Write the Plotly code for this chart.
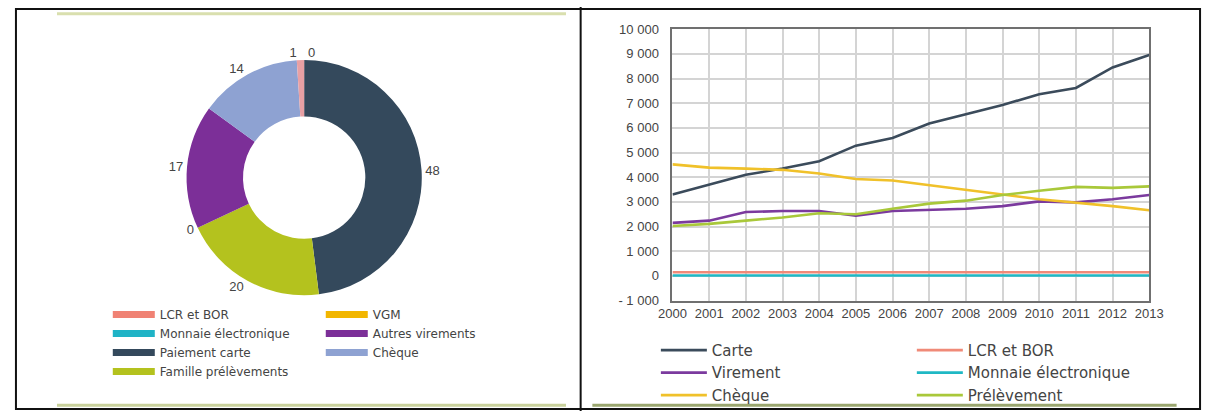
import plotly.graph_objects as go

# ---------------- data ----------------
pie_labels = ["Paiement carte", "Famille prélèvements", "VGM", "Autres virements",
              "Chèque", "LCR et BOR", "Monnaie électronique"]
pie_values = [48, 20, 0, 17, 14, 1, 0]
pie_colors = ["#34495c", "#b4c21e", "#f2b600", "#7c2f98", "#8ea2d2", "#e8a0a4", "#1fb3c6"]

pie_legend_col1 = ["LCR et BOR", "Monnaie électronique", "Paiement carte", "Famille prélèvements"]
pie_legend_col2 = ["VGM", "Autres virements", "Chèque"]
pie_legend_colors = {"LCR et BOR": "#f08274", "Monnaie électronique": "#1fb3c6",
                     "Paiement carte": "#34495c", "Famille prélèvements": "#b4c21e",
                     "VGM": "#f2b600", "Autres virements": "#7c2f98", "Chèque": "#8ea2d2"}

years = list(range(2000, 2014))
carte = [3300, 3700, 4100, 4350, 4650, 5280, 5590, 6180, 6570, 6930, 7360, 7620, 8450, 8950]
virement = [2150, 2240, 2590, 2630, 2630, 2440, 2630, 2660, 2720, 2830, 3020, 2980, 3110, 3280]
cheque = [4520, 4390, 4350, 4300, 4150, 3930, 3870, 3670, 3480, 3300, 3110, 2980, 2830, 2660]
lcr_bor = [150, 150, 150, 150, 150, 150, 150, 150, 150, 150, 150, 150, 150, 150]
monnaie = [20, 20, 20, 20, 20, 20, 20, 20, 20, 20, 20, 20, 20, 20]
prelevement = [2020, 2110, 2240, 2370, 2540, 2500, 2720, 2930, 3050, 3280, 3450, 3610, 3570, 3630]

y_ticks = list(range(-1000, 10001, 1000))


def fmt(v):
    s = f"{abs(v):,}".replace(",", " ")
    return ("- " + s) if v < 0 else s


y_ticktext = [fmt(v) for v in y_ticks]

line_col1 = [("Carte", carte, "#3b4b5b"), ("Virement", virement, "#7b3a9e"),
             ("Chèque", cheque, "#f0c12a")]
line_col2 = [("LCR et BOR", lcr_bor, "#f08a78"), ("Monnaie électronique", monnaie, "#1fb8c4"),
             ("Prélèvement", prelevement, "#a9c83a")]

W, H = 1216, 419
FONT = "Liberation Sans, Arial, sans-serif"
LFONT = "DejaVu Sans, Verdana, sans-serif"
TXT = "#444444"

fig = go.Figure()

# ---------------- pie ----------------
cx, cy, r = 297, 177, 122
fig.add_trace(go.Pie(
    labels=pie_labels, values=pie_values, sort=False, direction="clockwise", rotation=0,
    hole=0.52, marker=dict(colors=pie_colors, line=dict(width=0)),
    textposition="outside", texttemplate="%{value}", showlegend=False,
    textfont=dict(family=FONT, size=13, color=TXT),
    domain=dict(x=[(cx - r) / W, (cx + r) / W], y=[(H - cy - r) / H, (H - cy + r) / H]),
    hoverinfo="label+value",
))

# pie legend entries (two columns)
for lg, names in (("legend3", pie_legend_col1), ("legend4", pie_legend_col2)):
    for nm in names:
        fig.add_trace(go.Scatter(x=[None], y=[None], mode="lines", name=nm,
                                 line=dict(color=pie_legend_colors[nm], width=7),
                                 legend=lg, legendgroup=nm, hoverinfo="skip"))

# ---------------- lines ----------------
for lg, items in (("legend", line_col1), ("legend2", line_col2)):
    for nm, vals, col in items:
        fig.add_trace(go.Scatter(x=years, y=vals, mode="lines", name=nm,
                                 line=dict(color=col, width=2.6), legend=lg,
                                 legendgroup=nm, cliponaxis=False))

x0, x1 = 674, 1162
yt, yb = 23, 304.5
fig.update_xaxes(domain=[x0 / W, x1 / W], range=[2000, 2013], tickvals=years,
                 showgrid=True, gridcolor="#d4d4d4", gridwidth=1.5,
                 showline=True, linecolor="#707070", linewidth=2, mirror=True,
                 ticks="", tickfont=dict(family=FONT, size=13, color=TXT), zeroline=False)
fig.update_yaxes(domain=[(H - yb) / H, (H - yt) / H], range=[-1000, 10000],
                 tickvals=y_ticks, ticktext=y_ticktext,
                 showgrid=True, gridcolor="#d4d4d4", gridwidth=1.5,
                 showline=True, linecolor="#707070", linewidth=2, mirror=True,
                 ticks="", ticklabelstandoff=9,
                 tickfont=dict(family=FONT, size=13, color=TXT), zeroline=False)

leg_line = dict(font=dict(family=LFONT, size=15, color=TXT), bgcolor="rgba(0,0,0,0)",
                yanchor="top", xanchor="left", itemwidth=46, tracegroupgap=0,
                orientation="v")
leg_pie = dict(font=dict(family=LFONT, size=12, color=TXT), bgcolor="rgba(0,0,0,0)",
               yanchor="top", xanchor="left", itemwidth=42, tracegroupgap=0,
               orientation="v")

shapes = [
    dict(type="rect", xref="paper", yref="paper", x0=2 / W, x1=1 - 2 / W, y0=2 / H, y1=1 - 2 / H,
         line=dict(color="#111111", width=2)),
    dict(type="line", xref="paper", yref="paper", x0=580 / W, x1=580 / W, y0=0, y1=1,
         line=dict(color="#111111", width=2)),
    dict(type="line", xref="paper", yref="paper", x0=44 / W, x1=565 / W,
         y0=(H - 7) / H, y1=(H - 7) / H, line=dict(color="#d9dfae", width=3)),
    dict(type="line", xref="paper", yref="paper", x0=44 / W, x1=565 / W,
         y0=(H - 413) / H, y1=(H - 413) / H, line=dict(color="#c9d19c", width=3)),
    dict(type="line", xref="paper", yref="paper", x0=592 / W, x1=1190 / W,
         y0=(H - 413) / H, y1=(H - 413) / H, line=dict(color="#9aa66f", width=3)),
]

fig.update_layout(
    width=W, height=H, margin=dict(l=0, r=0, t=0, b=0),
    paper_bgcolor="white", plot_bgcolor="white",
    font=dict(family=FONT, color=TXT),
    legend=dict(x=657 / W, y=(H - 339) / H, **leg_line),
    legend2=dict(x=919 / W, y=(H - 339) / H, **leg_line),
    legend3=dict(x=96 / W, y=(H - 304) / H, **leg_pie),
    legend4=dict(x=314 / W, y=(H - 304) / H, **leg_pie),
    shapes=shapes,
)

fig.write_html("out.html")
